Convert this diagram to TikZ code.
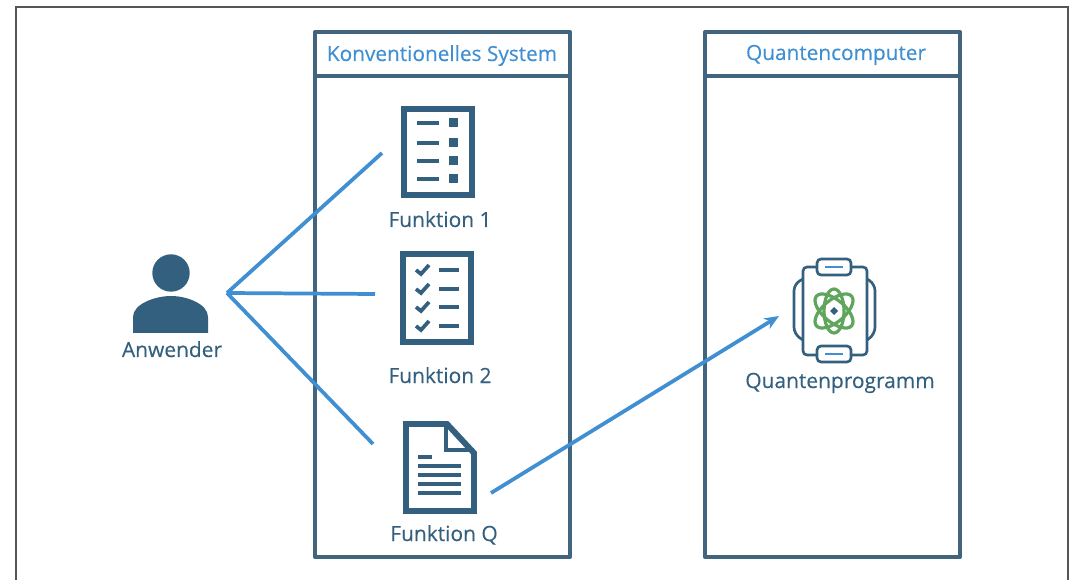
\documentclass[tikz,border=0pt]{standalone}
\usepackage{fontspec}
\setmainfont{Open Sans}
\newfontfamily\labfont[FakeBold=0.25]{Open Sans}
\usetikzlibrary{arrows.meta}
\definecolor{navy}{HTML}{34607F}
\definecolor{frameb}{HTML}{41657F}
\definecolor{sky}{HTML}{3F8FD2}
\definecolor{atomg}{HTML}{5FA55C}
\definecolor{outer}{HTML}{555555}
\tikzset{
  x=0.75pt,y=-0.75pt,
  panel/.style={draw=frameb,line width=3pt,fill=white,line join=round},
  head/.style={font=\labfont\fontsize{15.6pt}{17pt}\selectfont,text=sky,anchor=base,inner sep=0pt},
  lab/.style={font=\labfont\fontsize{15.7pt}{17pt}\selectfont,text=navy,anchor=base,inner sep=0pt},
  icon/.style={draw=navy,line width=4.4pt,fill=white},
  rule/.style={draw=navy,line width=2.5pt},
  link/.style={draw=sky,line width=2.8pt},
}
\begin{document}
\begin{tikzpicture}
\useasboundingbox (0,0) rectangle (1073,580);
\fill[white] (0,0) rectangle (1073,580);
% outer frame
\draw[outer,line width=1.5pt] (15.5,590) -- (15.5,7.5) -- (1067.5,7.5) -- (1067.5,590);
% panels
\draw[panel] (315,32) rectangle (570,557);
\draw[panel] (315,76) -- (570,76);
\draw[panel] (705,32) rectangle (960,557);
\draw[panel] (705,76) -- (960,76);
\node[head] (h1) at (442,61) {Konventionelles System};
\node[head] (h2) at (836,60) {Quantencomputer};
% user
\fill[navy] (171,273) circle (18.7);
\fill[navy] (133,333) -- (133,317) .. controls (133,304) and (155,296) .. (171,296)
  .. controls (187,296) and (208,304) .. (208,317) -- (208,333) -- cycle;
\node[lab] (user) at (172,357) {Anwender};
\coordinate (hub) at (227,293);
% function 1
\draw[icon] (404,109) rectangle (472,195);
\foreach \y in {123,143,161,179} {
  \draw[rule] (417,\y) -- (439,\y);
  \fill[navy] (449,{\y-4.5}) rectangle (458,{\y+4.5});
}
\node[lab] (f1) at (440,227) {Funktion 1};
% function 2
\draw[icon] (403,254) rectangle (471,342);
\foreach \y in {270,289,307,326} {
  \draw[rule] (439,\y) -- (459,\y);
  \draw[navy,line width=2.8pt] (416,\y) -- (421,{\y+4}) -- (429,{\y-5});
}
\node[lab] (f2) at (440,383) {Funktion 2};
% function Q
\draw[icon,line join=miter] (406,424) -- (447,424) -- (474,453) -- (474,511) -- (406,511) -- cycle;
\draw[navy,line width=3pt,line join=miter] (446,424) -- (446,450) -- (474,450);
\draw[rule] (418,457) -- (432,457);
\foreach \y in {466,475,484,493} { \draw[rule] (418,\y) -- (461,\y); }
\node[lab] (fq) at (444,541) {Funktion Q};
% quantum program
\begin{scope}[navy,line width=2pt,rounded corners=3pt]
  \draw (816,267) -- (803,267) -- (803,355) -- (817,355);
  \draw (852,267) -- (867,267) -- (867,355) -- (852,355);
  \draw[rounded corners=5pt] (803,279) -- (794,284) -- (794,334) -- (803,340);
  \draw[rounded corners=5pt] (867,279) -- (875,284) -- (875,334) -- (867,340);
  \draw[fill=white] (817,259) rectangle (851,275);
  \draw[fill=white] (817,346) rectangle (851,362);
\end{scope}
\draw[sky,line width=2.2pt] (825,267) -- (843,267);
\draw[sky,line width=2.2pt] (825,354) -- (843,354);
\begin{scope}[atomg,line width=2.4pt]
  \draw[rotate around={40:(834,311)}] (834,311) ellipse (23 and 11);
  \draw[rotate around={-40:(834,311)}] (834,311) ellipse (23 and 11);
  \draw (834,311) ellipse (10 and 22);
\end{scope}
\fill[navy] (834,307) -- (838,311) -- (834,315) -- (830,311) -- cycle;
\node[lab] (qp) at (840,388) {Quantenprogramm};
% connectors
\coordinate (e1) at (382,153);
\coordinate (e2) at (375,294);
\coordinate (e3) at (373,444);
\coordinate (qs) at (491,493);
\coordinate (qe) at (779,316);
\draw[link] (hub) -- (e1);
\draw[link] (hub) -- (e2);
\draw[link] (hub) -- (e3);
\draw[link,-{Stealth[length=11pt,width=9pt]}] (qs) -- (qe);
\end{tikzpicture}
\end{document}
